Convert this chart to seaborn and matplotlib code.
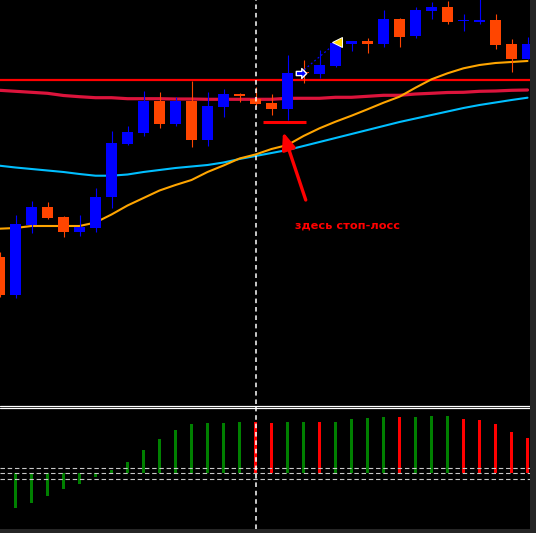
import numpy as np
import pandas as pd
import seaborn as sns
import matplotlib.pyplot as plt
from matplotlib.path import Path

# bar index 0..33, prices in points
bars = np.arange(34)
open_ = [148, 110, 180, 198, 188, 173, 177, 208, 261, 272, 304, 281, 304, 265, 298, 311, 306, 302,
         296, 333, 331, 339, 361, 364, 361, 386, 369, 394, 398, 384, 383, 385, 361, 346]
high_ = [153, 190, 204, 203, 189, 190, 217, 274, 279, 314, 313, 308, 324, 313, 316, 312, 318, 311,
         350, 345, 355, 365, 364, 367, 395, 387, 398, 403, 404, 391, 407, 391, 366, 368]
low_ = [108, 107, 172, 186, 168, 169, 173, 197, 260, 269, 277, 279, 258, 259, 288, 303, 299, 290,
        285, 322, 327, 338, 354, 352, 358, 358, 367, 386, 381, 374, 381, 356, 333, 346]
close_ = [110, 181, 198, 187, 173, 178, 208, 262, 273, 304, 281, 304, 265, 299, 311, 309, 301, 296,
          332, 332, 340, 362, 364, 361, 386, 368, 395, 398, 383, 384, 385, 360, 346, 361]

ma_slow = [314.7, 313.7, 312.7, 311.7, 309.5, 308.3, 307.3, 307.3, 306.3, 306.3, 306.3, 306, 306, 305.7,
           305.7, 305.7, 305.7, 305.7, 306.7, 306.7, 306.7, 307.7, 307.7, 308.7, 309.7, 309.7, 311,
           311.7, 312.5, 312.7, 313.7, 314, 314.7, 315]
ma_mid = [239.3, 237.5, 236, 234.5, 233, 231, 229.3, 229.3, 230.5, 233, 235, 237, 238.5, 240, 242.5,
          246, 249, 252, 255, 259, 263, 267, 271, 275, 279, 283, 286.5, 290, 293.5, 297, 300, 302.5,
          305, 307.3]
ma_fast = [176.3, 177, 179, 179, 179, 179, 182.5, 190.5, 199.5, 207, 214.5, 220, 225, 233, 239.5,
           246.5, 250.5, 256, 260, 269, 276.7, 283.3, 289.3, 295.7, 302.3, 308.3, 317.3, 325.7, 331.7,
           336.7, 340, 342, 343, 344]
resistance = 325

# indicator histogram, bars 1..33
hist_bars = np.arange(1, 34)
hist_vals = [-35, -30, -23, -16, -11, -4, 3, 11, 23, 34, 43, 49, 50, 50, 51, 51, 50, 51, 51, 51, 51,
             54, 55, 56, 56, 56, 57, 57, 54, 53, 49, 41, 35]
hist_up = [1, 1, 1, 1, 1, 1, 1, 1, 1, 1, 1, 1, 1, 1, 1, 0, 0, 1, 1, 0, 1, 1, 1, 1, 0, 1, 1, 1, 0, 0,
           0, 0, 0]
hist_levels = [5.5, 0, -5.5]

marker_bar = 16
stop_loss = 283
stop_from, stop_to = 16.45, 19.15
arrow_tail = (19.14, 205)
arrow_head = (17.72, 273)
label_pos = (18.45, 179)
entry = (18.84, 332.5)
exit_ = (21.09, 363)

df = pd.DataFrame({'bar': bars, 'open': open_, 'high': high_, 'low': low_, 'close': close_,
                   'ma_slow': ma_slow, 'ma_mid': ma_mid, 'ma_fast': ma_fast})
df['up'] = df['close'] >= df['open']

sns.set_style('dark', rc={'axes.facecolor': 'black', 'figure.facecolor': '#262626'})
plt.rcParams['font.family'] = ['DejaVu Sans']

fig = plt.figure(figsize=(5.36, 5.33), dpi=100)
ax1 = fig.add_axes([0, 129 / 533, 530 / 536, 404 / 533])
ax2 = fig.add_axes([0, 4 / 533, 530 / 536, 125 / 533])

bull, bear = '#0000ff', '#ff4500'
colors = np.where(df['up'], bull, bear)

ax1.axhline(resistance, color='#ff0000', lw=1.6, zorder=1)
sns.lineplot(data=df, x='bar', y='ma_slow', ax=ax1, color='#dc143c', lw=2.3, zorder=2)
sns.lineplot(data=df, x='bar', y='ma_mid', ax=ax1, color='#00bfff', lw=1.5, zorder=2)
sns.lineplot(data=df, x='bar', y='ma_fast', ax=ax1, color='#ffa500', lw=1.5, zorder=2)

ax1.vlines(df['bar'], df['low'], df['high'], colors=colors, lw=0.8, zorder=3)
body_lo = np.minimum(df['open'], df['close'])
body_h = np.maximum(np.abs(df['close'] - df['open']), 1.2)
ax1.bar(df['bar'], body_h, bottom=body_lo, width=0.69, color=colors, lw=0, zorder=4)

ax1.hlines(stop_loss, stop_from, stop_to, color='#ff0000', lw=2.2, zorder=5)
ax1.annotate('', xy=arrow_head, xytext=arrow_tail,
             arrowprops=dict(arrowstyle='-|>,head_width=0.4,head_length=1.0', color='#ff0000',
                             lw=2.4, shrinkA=0, shrinkB=0), zorder=5)
ax1.text(label_pos[0], label_pos[1], 'здесь стоп-лосс', color='#ff0000', fontsize=8.2,
         fontweight='bold', va='center', ha='left')

ax1.plot([entry[0], exit_[0]], [entry[1], exit_[1]], color=bull, lw=0.9, ls=(0, (1.5, 2)), zorder=5)
arrow_marker = Path([(-1, -0.4), (0.05, -0.4), (0.05, -0.95), (1, 0), (0.05, 0.95), (0.05, 0.4),
                     (-1, 0.4), (-1, -0.4)],
                    [Path.MOVETO] + [Path.LINETO] * 6 + [Path.CLOSEPOLY])
ax1.plot(*entry, marker=arrow_marker, ms=7.5, mfc=bull, mec='white', mew=1.0, zorder=6)
ax1.plot(*exit_, marker='<', ms=7.5, mfc='#ffd700', mec='white', mew=0.7, zorder=6)

# indicator window
hcol = np.where(np.array(hist_up) == 1, '#008000', '#ff0000')
ax2.bar(hist_bars, hist_vals, width=0.14, color=hcol, lw=0)
for lv in hist_levels:
    ax2.axhline(lv, color='#c8c8c8', lw=0.8, ls=(0, (4, 2.5)))
ax2.axhline(67, color='white', lw=0.9)
ax2.axhline(64.7, color='white', lw=0.9)

for ax in (ax1, ax2):
    ax.axvline(marker_bar, color='white', lw=1.1, ls=(0, (3, 2.5)), zorder=7)
    ax.set_xlim(0.5 / 16, 530.5 / 16)
    ax.set_xticks([])
    ax.set_yticks([])
    ax.set_xlabel('')
    ax.set_ylabel('')
    ax.grid(False)
    for s in ax.spines.values():
        s.set_visible(False)
ax1.set_ylim(1, 405)
ax2.set_ylim(-56, 69)

fig.savefig('out.png', dpi=100, facecolor=fig.get_facecolor())
